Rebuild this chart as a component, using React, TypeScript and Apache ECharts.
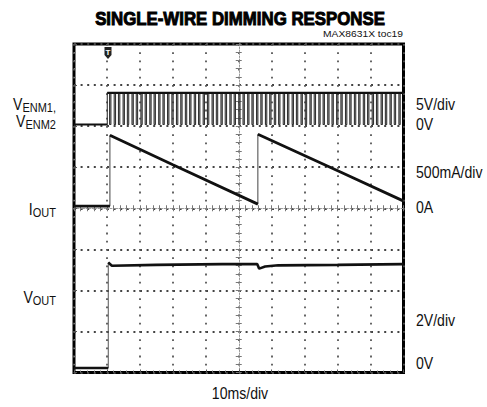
import React, { useEffect, useRef } from "react";
import * as echarts from "echarts";

// Time axis in ms (10 ms/div, 10 divisions); vertical axis in screen divisions (8 divisions)
const TIME_MIN = 0;
const TIME_MAX = 100;
const TIME_STEP = 10;
const DIV_MIN = 0;
const DIV_MAX = 8;

// V_ENM1/V_ENM2 trace (divisions)
const VENM_LOW = 6.04;
const VENM_HIGH = 6.81;
const VENM_RISE_MS = 10.1;
const VENM_PULSE_WIDTH_MS = 0.4;
const VENM_PULSE_TIMES = [
  10.8, 12.2, 13.5, 14.9, 16.2, 17.6, 18.9, 20.3, 21.6, 23.0, 24.3, 25.7, 27.0, 28.4,
  29.7, 31.1, 32.4, 33.8, 35.1, 36.5, 37.8, 39.2, 40.5, 41.9, 43.2, 44.6, 45.9, 47.3,
  48.6, 50.0, 51.3, 52.7, 54.0, 55.4, 56.7, 58.1, 59.4, 60.8, 62.1, 63.5, 64.8, 66.2,
  67.5, 68.9, 70.2, 71.6, 72.9, 74.3, 75.6, 77.0, 78.3, 79.7, 81.0, 82.4, 83.7, 85.1,
  86.4, 87.8, 89.1, 90.5, 91.8, 93.2, 94.5, 95.9, 97.2, 98.6,
];

// I_OUT trace
const IOUT_TIMES = [0, 10.9, 10.9, 30.0, 55.8, 55.8, 80.7, 99.9];
const IOUT_DIVS = [4.05, 4.05, 5.78, 5.06, 4.1, 5.8, 4.89, 4.18];

// V_OUT trace
const VOUT_TIMES = [0, 10.4, 10.4, 11.5, 25, 45, 55.6, 56.2, 58, 62, 80, 99.9];
const VOUT_DIVS = [0.11, 0.11, 2.68, 2.6, 2.62, 2.64, 2.64, 2.53, 2.58, 2.61, 2.62, 2.64];

// Texts
const TITLE = "SINGLE-WIRE DIMMING RESPONSE";
const TOC = "MAX8631X toc19";
const X_LABEL = "10ms/div";
const LEFT_LABELS = [
  { main: "V", sub: "ENM1," },
  { main: "V", sub: "ENM2" },
  { main: "I", sub: "OUT" },
  { main: "V", sub: "OUT" },
];
const RIGHT_LABELS = ["5V/div", "0V", "500mA/div", "0A", "2V/div", "0V"];

const FONT = '"Liberation Sans", Arial, sans-serif';

function measure(text: string, font: string): number {
  const c = document.createElement("canvas");
  const ctx = c.getContext("2d");
  if (!ctx) return text.length * 7;
  ctx.font = font;
  return ctx.measureText(text).width;
}

function buildVenm(): (number | string)[][] {
  const pts: (number | string)[][] = [
    [TIME_MIN, VENM_LOW],
    [VENM_RISE_MS, VENM_LOW],
    [VENM_RISE_MS, VENM_HIGH],
  ];
  VENM_PULSE_TIMES.forEach((p) => {
    pts.push([p, VENM_HIGH], [p, VENM_LOW], [p + VENM_PULSE_WIDTH_MS, VENM_LOW], [p + VENM_PULSE_WIDTH_MS, VENM_HIGH]);
  });
  pts.push([TIME_MAX, VENM_HIGH]);
  return pts;
}

function pairs(times: number[], vals: number[]) {
  return times.map((t, i) => [t, vals[i]]);
}

// thick segments: break the line at vertical edges (same time)
function thickPart(times: number[], vals: number[]) {
  const out: (number | string)[][] = [];
  for (let i = 0; i < times.length; i++) {
    out.push([times[i], vals[i]]);
    if (i < times.length - 1 && times[i + 1] === times[i]) out.push([times[i], "-"]);
  }
  return out;
}

export default function App() {
  const ref = useRef<HTMLDivElement>(null);

  useEffect(() => {
    if (!ref.current) return;
    const chart = echarts.init(ref.current, undefined, { renderer: "svg" });

    const gl = 74, gt = 44, gw = 329.5, gh = 328.5;

    const titleFont = `bold 19px ${FONT}`;
    const titleW = measure(TITLE, titleFont);
    const titleScale = 290 / titleW;
    const tocFont = `9px ${FONT}`;
    const tocW = measure(TOC, tocFont);
    const tocScale = 80 / tocW;

    const labelSize = 16;
    const subSize = 12.5;
    const sx = 0.88;
    const leftY = [104, 121, 209, 297];
    const leftEls: any[] = LEFT_LABELS.map((l, i) => {
      const subW = measure(l.sub, `${subSize}px ${FONT}`);
      return {
        type: "group",
        x: 56,
        y: leftY[i],
        scaleX: sx,
        children: [
          {
            type: "text",
            x: -subW,
            y: 0,
            style: { text: l.main, fontSize: labelSize, fontFamily: FONT, fill: "#111", textAlign: "right", textVerticalAlign: "middle" },
          },
          {
            type: "text",
            x: 0,
            y: 3.5,
            style: { text: l.sub, fontSize: subSize, fontFamily: FONT, fill: "#111", textAlign: "right", textVerticalAlign: "middle" },
          },
        ],
      };
    });

    const rightY = [104, 124, 172, 207, 320, 363];
    const rightEls: any[] = RIGHT_LABELS.map((t, i) => ({
      type: "text",
      x: 416,
      y: rightY[i],
      scaleX: sx,
      style: { text: t, fontSize: labelSize, fontFamily: FONT, fill: "#111", textAlign: "left", textVerticalAlign: "middle" },
    }));

    const baseX = {
      type: "value",
      min: TIME_MIN,
      max: TIME_MAX,
      interval: TIME_STEP,
      axisLabel: { show: false },
    };
    const baseY = {
      type: "value",
      min: DIV_MIN,
      max: DIV_MAX,
      interval: 1,
      axisLabel: { show: false },
    };

    const option: any = {
      animation: false,
      grid: {
        left: gl,
        top: gt,
        width: gw,
        height: gh,
        show: true,
        borderColor: "#000",
        borderWidth: 3,
        backgroundColor: "#fff",
      },
      xAxis: [
        {
          ...baseX,
          axisLine: { show: false },
          axisTick: { show: true, inside: true, length: 3, lineStyle: { color: "#555" } },
          minorTick: { show: true, splitNumber: 5, length: 2, lineStyle: { color: "#777" } },
          splitLine: { show: true, lineStyle: { color: "#555", width: 1.8, type: [1.8, 6.4] } },
        },
        {
          ...baseX,
          position: "bottom",
          offset: -gh / 2,
          axisLine: { show: true, lineStyle: { color: "#999", width: 1, type: [1.5, 1.5] } },
          axisTick: { show: true, inside: true, length: 3, lineStyle: { color: "#777" } },
          minorTick: { show: true, splitNumber: 5, length: 3, lineStyle: { color: "#777" } },
          splitLine: { show: false },
        },
        {
          ...baseX,
          position: "bottom",
          offset: -gh / 2,
          axisLine: { show: false },
          axisTick: { show: true, inside: false, length: 3, lineStyle: { color: "#777" } },
          minorTick: { show: true, splitNumber: 5, length: 3, lineStyle: { color: "#777" } },
          splitLine: { show: false },
        },
      ],
      yAxis: [
        {
          ...baseY,
          axisLine: { show: false },
          axisTick: { show: true, inside: true, length: 3, lineStyle: { color: "#555" } },
          minorTick: { show: true, splitNumber: 5, length: 2, lineStyle: { color: "#777" } },
          splitLine: { show: true, lineStyle: { color: "#444", width: 2, type: [2, 4.6] } },
        },
        {
          ...baseY,
          position: "left",
          offset: -gw / 2,
          axisLine: { show: true, lineStyle: { color: "#999", width: 1, type: [1.5, 1.5] } },
          axisTick: { show: true, inside: true, length: 3, lineStyle: { color: "#777" } },
          minorTick: { show: true, splitNumber: 5, length: 3, lineStyle: { color: "#777" } },
          splitLine: { show: false },
        },
        {
          ...baseY,
          position: "left",
          offset: -gw / 2,
          axisLine: { show: false },
          axisTick: { show: true, inside: false, length: 3, lineStyle: { color: "#777" } },
          minorTick: { show: true, splitNumber: 5, length: 3, lineStyle: { color: "#777" } },
          splitLine: { show: false },
        },
      ],
      series: [
        {
          name: "VENM",
          type: "line",
          xAxisIndex: 0,
          yAxisIndex: 0,
          data: buildVenm(),
          symbol: "none",
          lineStyle: { color: "#333", width: 1.1 },
          z: 3,
        },
        {
          name: "VENM high",
          type: "line",
          xAxisIndex: 0,
          yAxisIndex: 0,
          data: [
            [TIME_MIN, VENM_LOW],
            [VENM_RISE_MS, VENM_LOW],
            [VENM_RISE_MS, "-"],
            [VENM_RISE_MS, VENM_HIGH],
            [TIME_MAX, VENM_HIGH],
          ],
          symbol: "none",
          lineStyle: { color: "#111", width: 2.2 },
          z: 4,
        },
        {
          name: "IOUT edges",
          type: "line",
          xAxisIndex: 0,
          yAxisIndex: 0,
          data: pairs(IOUT_TIMES, IOUT_DIVS),
          symbol: "none",
          lineStyle: { color: "#444", width: 1 },
          z: 3,
        },
        {
          name: "IOUT",
          type: "line",
          xAxisIndex: 0,
          yAxisIndex: 0,
          data: thickPart(IOUT_TIMES, IOUT_DIVS),
          symbol: "none",
          lineStyle: { color: "#111", width: 2.8 },
          z: 4,
        },
        {
          name: "VOUT edges",
          type: "line",
          xAxisIndex: 0,
          yAxisIndex: 0,
          data: pairs(VOUT_TIMES, VOUT_DIVS),
          symbol: "none",
          lineStyle: { color: "#555", width: 1 },
          z: 3,
        },
        {
          name: "VOUT",
          type: "line",
          xAxisIndex: 0,
          yAxisIndex: 0,
          data: thickPart(VOUT_TIMES, VOUT_DIVS),
          symbol: "none",
          lineStyle: { color: "#111", width: 2.6 },
          z: 4,
        },
      ],
      graphic: [
        {
          type: "group",
          x: 240,
          y: 18.5,
          scaleX: titleScale,
          children: [
            {
              type: "text",
              x: 0,
              y: 0,
              style: {
                text: TITLE,
                fontSize: 19,
                fontWeight: "bold",
                fontFamily: FONT,
                fill: "#000",
                stroke: "#000",
                lineWidth: 1,
                textAlign: "center",
                textVerticalAlign: "middle",
              },
            },
          ],
        },
        {
          type: "group",
          x: 403,
          y: 34,
          scaleX: tocScale,
          children: [
            {
              type: "text",
              x: 0,
              y: 0,
              style: { text: TOC, fontSize: 9, fontFamily: FONT, fill: "#111", textAlign: "right", textVerticalAlign: "middle" },
            },
          ],
        },
        {
          type: "text",
          x: 240,
          y: 393,
          scaleX: sx,
          style: { text: X_LABEL, fontSize: labelSize, fontFamily: FONT, fill: "#111", textAlign: "center", textVerticalAlign: "middle" },
        },
        {
          type: "polygon",
          shape: { points: [[104.5, 47], [111.5, 47], [111.5, 55], [108, 59], [104.5, 55]] },
          style: { fill: "#222" },
          z: 10,
        },
        {
          type: "text",
          x: 108,
          y: 52,
          style: { text: "T", fontSize: 8, fontWeight: "bold", fontFamily: FONT, fill: "#fff", textAlign: "center", textVerticalAlign: "middle" },
          z: 11,
        },
        ...leftEls,
        ...rightEls,
      ],
    };

    chart.setOption(option);
    return () => chart.dispose();
  }, []);

  return (
    <div
      ref={ref}
      style={{ position: "absolute", left: 0, top: 0, width: 487, height: 407, background: "#fff" }}
    />
  );
}
